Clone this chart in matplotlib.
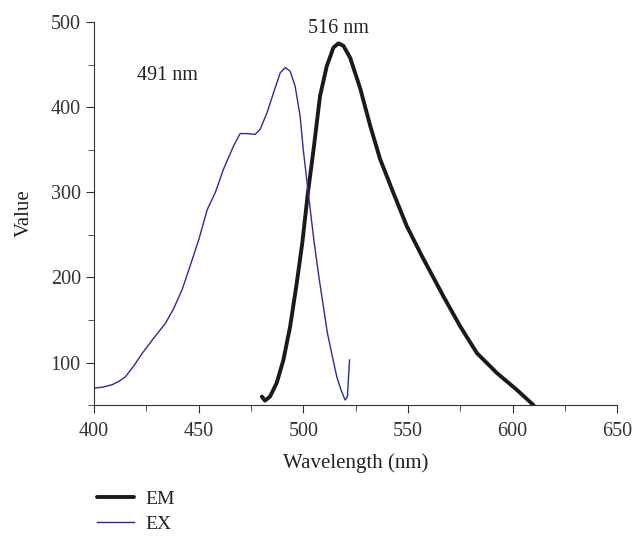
"""
Excitation / emission spectra (EX / EM).
"""

import matplotlib
matplotlib.use('Agg')
import matplotlib.pyplot as plt
from matplotlib.ticker import MultipleLocator

plt.rcParams.update({
    'font.family': ['Liberation Serif', 'DejaVu Serif'],
    'font.size': 14.5,
    'axes.edgecolor': '#333333',
    'xtick.color': '#333333',
    'ytick.color': '#333333',
    'text.color': '#222222',
    'axes.labelcolor': '#222222',
})

# ── Data ────────────────────────────────────────────────────────────────────
ex_wl = [400, 404, 408.7, 412, 415.1, 419, 423.1, 428, 434.1, 438, 442.1, 446,
         450.1, 454.1, 458, 461.8, 466.6, 469.8, 473, 477, 479.4, 482.6, 485.8,
         489, 491.4, 493.7, 496.1, 498.5, 500, 502.4, 505, 507.5, 509.6, 511.5,
         514, 516, 518, 520, 521.1, 522.1]
ex_val = [70, 71, 74, 78, 83.5, 96, 111, 127, 146, 163, 185.6, 214,
          244.5, 279.6, 300, 326.7, 354, 369, 369, 368, 374, 393, 417,
          440.5, 446.4, 442.4, 424.7, 389.4, 350, 299, 245, 200, 166, 135,
          106, 83.5, 68, 56, 60, 103]

em_wl = [480.2, 481.7, 484.1, 487.3, 490.5, 493.7, 496.8, 499.5, 502.2, 505,
         508, 511.2, 514.4, 516.8, 519.2, 522.4, 527.2, 532, 536.7, 543.1,
         549.5, 556.7, 563, 567, 575, 583, 592.6, 602, 610]
em_val = [60, 55.3, 60, 76, 103, 142, 192, 240, 299, 352,
          413, 448, 470, 475, 472, 458, 422, 378, 339, 299,
          260, 225, 196, 177.6, 142.4, 111, 87.5, 68, 50]

fig = plt.figure(figsize=(6.35, 5.38), dpi=100)
ax = fig.add_axes([0.148, 0.247, 0.824, 0.712])

em_line, = ax.plot(em_wl, em_val, color='#1a1a1a', linewidth=2.8,
                   solid_capstyle='round', solid_joinstyle='round', label='EM')
ex_line, = ax.plot(ex_wl, ex_val, color='#2b2b9a', linewidth=1.0, label='EX')

ax.text(435, 437, '491 nm', ha='center', va='center')
ax.text(517, 492.6, '516 nm', ha='center', va='center')

ax.set_xlim(400, 650)
ax.set_ylim(50, 500)
ax.xaxis.set_major_locator(MultipleLocator(50))
ax.xaxis.set_minor_locator(MultipleLocator(25))
ax.yaxis.set_minor_locator(MultipleLocator(50))
ax.set_yticks([100, 200, 300, 400, 500])
ax.tick_params(which='major', length=6, direction='out')
ax.tick_params(which='minor', length=4, direction='out')
ax.tick_params(axis='x', pad=6)

for side in ('top', 'right'):
    ax.spines[side].set_visible(False)

ax.set_xlabel('Wavelength (nm)', fontsize=15, labelpad=9)
ax.set_ylabel('Value', fontsize=15, labelpad=12)

fig.legend(handles=[em_line, ex_line], loc='upper left',
           bbox_to_anchor=(0.152, 0.088), frameon=False,
           handlelength=1.95, handletextpad=0.55, labelspacing=0.35,
           fontsize=14, borderaxespad=0, borderpad=0)

fig.savefig('out.png', dpi=100)
